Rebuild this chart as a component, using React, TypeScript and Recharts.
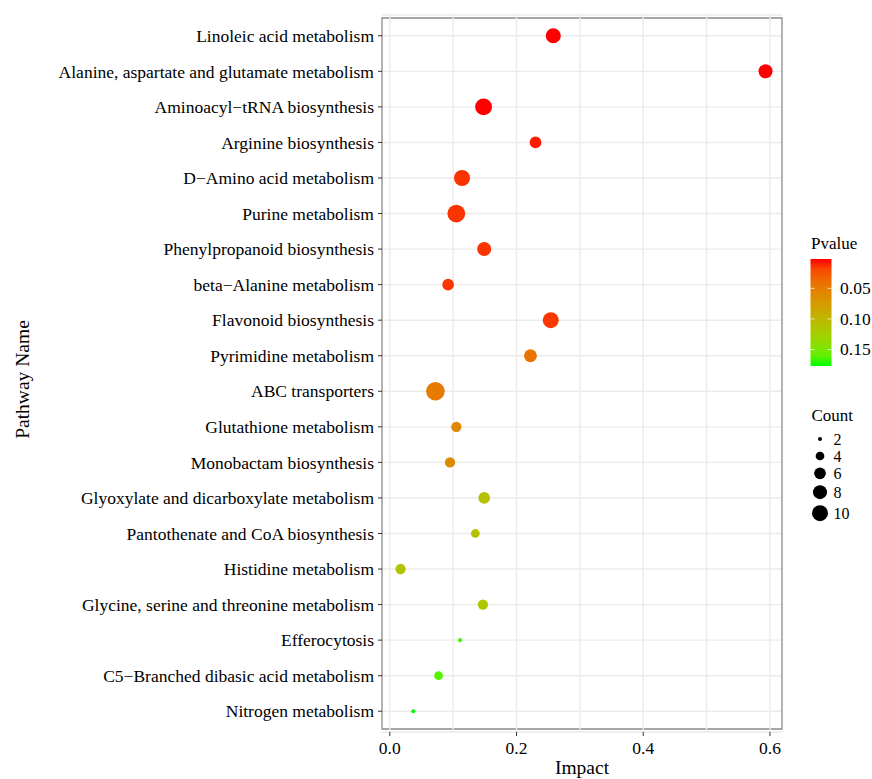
import React from "react";
import {
  ScatterChart,
  Scatter,
  XAxis,
  YAxis,
  ZAxis,
  CartesianGrid,
  ReferenceLine,
  ReferenceArea,
  Legend,
  Cell,
} from "recharts";

// pathways, top to bottom
const pathways: string[] = [
  "Linoleic acid metabolism",
  "Alanine, aspartate and glutamate metabolism",
  "Aminoacyl\u2212tRNA biosynthesis",
  "Arginine biosynthesis",
  "D\u2212Amino acid metabolism",
  "Purine metabolism",
  "Phenylpropanoid biosynthesis",
  "beta\u2212Alanine metabolism",
  "Flavonoid biosynthesis",
  "Pyrimidine metabolism",
  "ABC transporters",
  "Glutathione metabolism",
  "Monobactam biosynthesis",
  "Glyoxylate and dicarboxylate metabolism",
  "Pantothenate and CoA biosynthesis",
  "Histidine metabolism",
  "Glycine, serine and threonine metabolism",
  "Efferocytosis",
  "C5\u2212Branched dibasic acid metabolism",
  "Nitrogen metabolism",
];

const impact: number[] = [
  0.258, 0.593, 0.148, 0.23, 0.114, 0.105, 0.149, 0.092, 0.254, 0.222,
  0.072, 0.105, 0.095, 0.149, 0.135, 0.017, 0.147, 0.111, 0.077, 0.037,
];

const pvalue: number[] = [
  0.002, 0.002, 0.002, 0.005, 0.01, 0.011, 0.011, 0.012, 0.012, 0.044,
  0.048, 0.058, 0.06, 0.11, 0.112, 0.113, 0.117, 0.172, 0.165, 0.177,
];

const count: number[] = [
  9, 8, 11, 6, 10, 12, 8, 6, 10, 7, 13, 5, 5, 6, 4, 5, 5, 2, 4, 2,
];

const xTicks = [0, 0.2, 0.4, 0.6];
const xGrid = [0, 0.1, 0.2, 0.3, 0.4, 0.5, 0.6];
const pTicks = [0.05, 0.1, 0.15];
const countBreaks = [2, 4, 6, 8, 10];

const X_DOMAIN: [number, number] = [-0.0123, 0.619];
const P_DOMAIN: [number, number] = [0.002, 0.177];
const Z_DOMAIN: [number, number] = [2, 13];
const Z_RANGE: [number, number] = [12.6, 272]; // symbol area in px^2

const FONT = "'Liberation Serif', 'Times New Roman', serif";
const GRID = "#EBEBEB";

// red -> green gradient interpolated in Lab, like ggplot's scale_colour_gradient
const WHITE = [0.95047, 1, 1.08883];
const toLin = (c: number) => (c <= 0.04045 ? c / 12.92 : Math.pow((c + 0.055) / 1.055, 2.4));
const fromLin = (c: number) => (c <= 0.0031308 ? 12.92 * c : 1.055 * Math.pow(c, 1 / 2.4) - 0.055);

function rgbToLab(rgb: number[]) {
  const [r, g, b] = rgb.map((v) => toLin(v / 255));
  const X = (0.4124 * r + 0.3576 * g + 0.1805 * b) / WHITE[0];
  const Y = (0.2126 * r + 0.7152 * g + 0.0722 * b) / WHITE[1];
  const Z = (0.0193 * r + 0.1192 * g + 0.9505 * b) / WHITE[2];
  const f = (t: number) => (t > 0.008856 ? Math.cbrt(t) : 7.787 * t + 16 / 116);
  const fx = f(X), fy = f(Y), fz = f(Z);
  return [116 * fy - 16, 500 * (fx - fy), 200 * (fy - fz)];
}

function labToHex(lab: number[]) {
  const fy = (lab[0] + 16) / 116;
  const fx = fy + lab[1] / 500;
  const fz = fy - lab[2] / 200;
  const inv = (t: number) => (t * t * t > 0.008856 ? t * t * t : (t - 16 / 116) / 7.787);
  const X = inv(fx) * WHITE[0], Y = inv(fy) * WHITE[1], Z = inv(fz) * WHITE[2];
  const rgb = [
    3.2406 * X - 1.5372 * Y - 0.4986 * Z,
    -0.9689 * X + 1.8758 * Y + 0.0415 * Z,
    0.0557 * X - 0.204 * Y + 1.057 * Z,
  ].map((c) => Math.round(Math.min(1, Math.max(0, fromLin(c))) * 255));
  return "#" + rgb.map((v) => v.toString(16).padStart(2, "0")).join("");
}

const LOW = rgbToLab([255, 0, 0]);
const HIGH = rgbToLab([0, 255, 0]);

function pColor(p: number) {
  const t = Math.min(1, Math.max(0, (p - P_DOMAIN[0]) / (P_DOMAIN[1] - P_DOMAIN[0])));
  return labToHex(LOW.map((v, i) => v + (HIGH[i] - v) * t));
}

const zArea = (c: number) =>
  Z_RANGE[0] + ((c - Z_DOMAIN[0]) * (Z_RANGE[1] - Z_RANGE[0])) / (Z_DOMAIN[1] - Z_DOMAIN[0]);

const rows = pathways.map((name, i) => ({
  name,
  impact: impact[i],
  count: count[i],
  p: pvalue[i],
}));

// legend box sits at page (790, 225)
const LegendPanel = () => {
  const barX = 20.5, barY = 34, barW = 21, barH = 107;
  const stops = Array.from({ length: 11 }, (_, i) => i / 10);
  let y = 205.5;
  const keys = countBreaks.map((c) => {
    const r = Math.sqrt(zArea(c) / Math.PI);
    const h = Math.max(17, 2 * r + 6);
    const cy = y + h / 2;
    y += h;
    return { c, r, cy };
  });
  return (
    <svg width={82} height={310} style={{ fontFamily: FONT, display: "block" }}>
      <defs>
        <linearGradient id="pgrad" x1="0" y1="0" x2="0" y2="1">
          {stops.map((s) => (
            <stop
              key={s}
              offset={s}
              stopColor={pColor(P_DOMAIN[0] + s * (P_DOMAIN[1] - P_DOMAIN[0]))}
            />
          ))}
        </linearGradient>
      </defs>
      <text x={21} y={18} fontSize={17} dominantBaseline="central" fill="#000">
        Pvalue
      </text>
      <rect x={barX} y={barY} width={barW} height={barH} fill="url(#pgrad)" />
      {pTicks.map((p) => {
        const ty = barY + ((p - P_DOMAIN[0]) / (P_DOMAIN[1] - P_DOMAIN[0])) * barH;
        return (
          <g key={p}>
            <line x1={barX} x2={barX + 4} y1={ty} y2={ty} stroke="#fff" strokeOpacity={0.7} />
            <line x1={barX + barW - 4} x2={barX + barW} y1={ty} y2={ty} stroke="#fff" strokeOpacity={0.7} />
            <text x={50} y={ty} fontSize={17.5} dominantBaseline="central" fill="#000">
              {p.toFixed(2)}
            </text>
          </g>
        );
      })}
      <text x={21.5} y={190} fontSize={17} dominantBaseline="central" fill="#000">
        Count
      </text>
      {keys.map((k) => (
        <g key={k.c}>
          <circle cx={30} cy={k.cy} r={k.r} fill="#000" />
          <text x={43.5} y={k.cy} fontSize={16} dominantBaseline="central" fill="#000">
            {k.c}
          </text>
        </g>
      ))}
    </svg>
  );
};

const YLabel = (props: any) => {
  const vb = props.viewBox || { x: 0, y: 0, height: 0 };
  const cx = vb.x + 22;
  const cy = vb.y + vb.height / 2 + 6;
  return (
    <text
      transform={`translate(${cx},${cy}) rotate(-90)`}
      textAnchor="middle"
      dominantBaseline="central"
      fontSize={19.5}
      fill="#000"
    >
      Pathway Name
    </text>
  );
};

const App: React.FC = () => (
  <div
    style={{
      position: "absolute",
      left: 0,
      top: 0,
      width: 872,
      height: 779,
      background: "#fff",
      fontFamily: FONT,
    }}
  >
    <ScatterChart
      width={872}
      height={779}
      margin={{ top: 15, right: 90, bottom: 0, left: 0 }}
    >
      <CartesianGrid vertical={false} stroke={GRID} strokeWidth={1.4} />
      {xGrid.map((v) => (
        <ReferenceLine key={v} x={v} stroke={GRID} strokeWidth={1.4} />
      ))}
      <XAxis
        type="number"
        dataKey="impact"
        domain={X_DOMAIN}
        allowDataOverflow
        ticks={xTicks}
        tickFormatter={(v: number) => v.toFixed(1)}
        height={47}
        axisLine={false}
        tickSize={4}
        tickMargin={6}
        tickLine={{ stroke: "#333" }}
        tick={{ fill: "#000", fontSize: 17.5 }}
        label={{ value: "Impact", position: "insideBottom", offset: 5, fontSize: 19.5, fill: "#000" }}
      />
      <YAxis
        type="category"
        dataKey="name"
        width={382}
        interval={0}
        reversed
        axisLine={false}
        tickSize={4}
        tickMargin={4}
        tickLine={{ stroke: "#333" }}
        tick={{ fill: "#000", fontSize: 17.5 }}
        padding={{ top: 3, bottom: 3 }}
        label={<YLabel />}
      />
      <ZAxis type="number" dataKey="count" domain={Z_DOMAIN} range={Z_RANGE} />
      <Scatter data={rows} shape="circle" isAnimationActive={false}>
        {rows.map((r, i) => (
          <Cell key={`cell-${i}`} fill={pColor(r.p)} />
        ))}
      </Scatter>
      <ReferenceArea
        x1={X_DOMAIN[0]}
        x2={X_DOMAIN[1]}
        fill="none"
        fillOpacity={0}
        stroke="#8a8a8a"
        strokeWidth={1.3}
      />
      <Legend
        layout="horizontal"
        verticalAlign="middle"
        align="center"
        wrapperStyle={{ left: 790, top: 225, width: 82, height: 310 }}
        content={() => <LegendPanel />}
      />
    </ScatterChart>
  </div>
);

export default App;
